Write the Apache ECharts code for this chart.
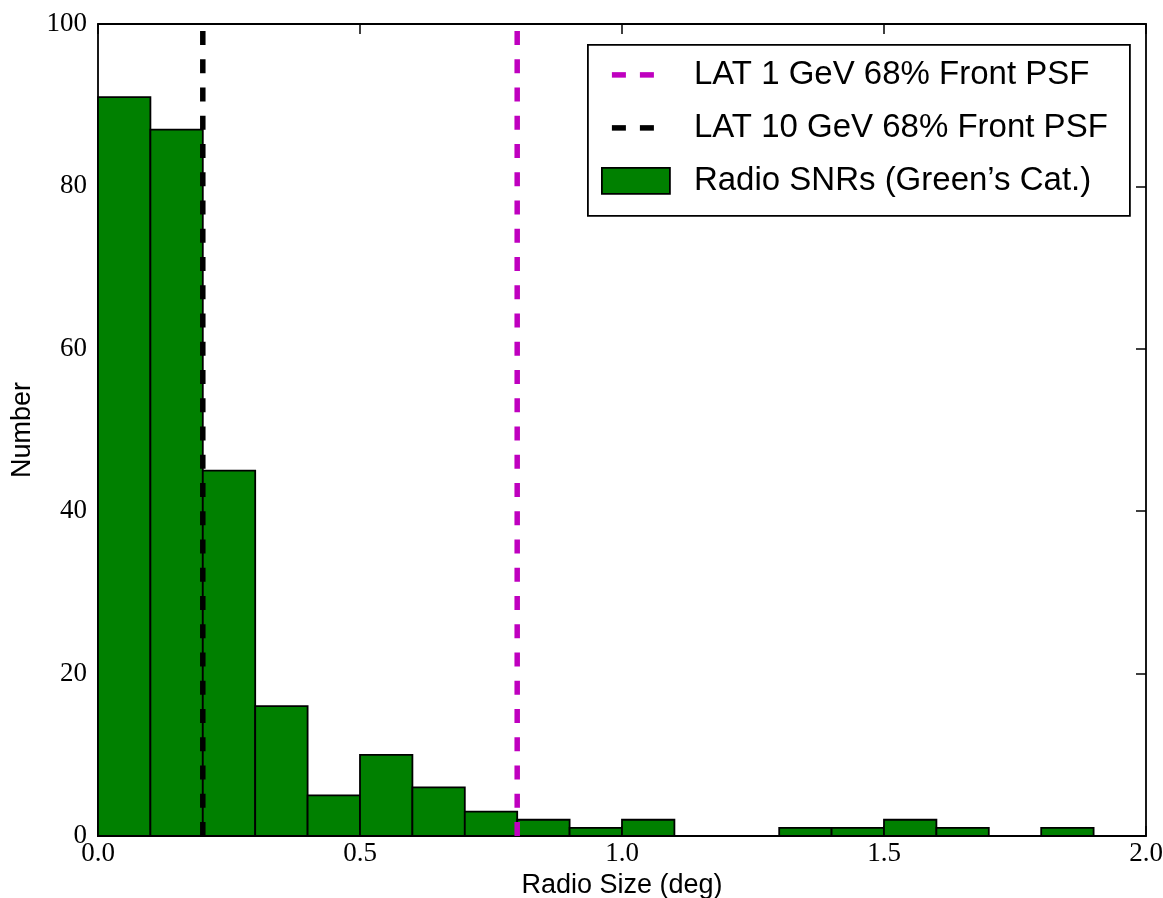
<!DOCTYPE html>
<html>
<head>
<meta charset="utf-8">
<title>Radio SNR sizes</title>
<script src="https://cdn.jsdelivr.net/npm/echarts@6/dist/echarts.min.js"></script>
<style>
  html, body { margin: 0; padding: 0; background: #ffffff; }
  #chart { width: 1163px; height: 898px; }
</style>
</head>
<body>
<div id="chart"></div>
<script>
// Histogram of radio sizes of SNRs in Green's catalogue (bin width 0.1 deg)
const binStarts = [0.0, 0.1, 0.2, 0.3, 0.4, 0.5, 0.6, 0.7, 0.8, 0.9,
                   1.0, 1.1, 1.2, 1.3, 1.4, 1.5, 1.6, 1.7, 1.8];
const binWidth = 0.1;
const counts = [91, 87, 45, 16, 5, 10, 6, 3, 2, 1,
                2, 0, 0, 1, 1, 2, 1, 0, 1];

// 68% containment radii of the LAT front PSF (deg)
const psf1GeV = 0.8;
const psf10GeV = 0.2;

// Axis ranges and tick steps
const xRange = [0, 2];
const xStep = 0.5;
const yRange = [0, 100];
const yStep = 20;

const labels = {
  psf1: 'LAT 1 GeV 68% Front PSF',
  psf10: 'LAT 10 GeV 68% Front PSF',
  snr: 'Radio SNRs (Green\u2019s Cat.)',
  x: 'Radio Size (deg)',
  y: 'Number'
};

const GREEN = '#008000';
const MAGENTA = '#bf00bf';
const BLACK = '#000000';
const SANS = '"Liberation Sans", Arial, sans-serif';
const SERIF = '"Liberation Serif", "Times New Roman", serif';
const DASH = [14, 14.25];

const histData = binStarts.map((s, i) => [s, s + binWidth, counts[i]]);

const chart = echarts.init(document.getElementById('chart'), null, { renderer: 'canvas' });

const tickStyle = { show: true, inside: true, length: 10, lineStyle: { color: BLACK, width: 1.5 } };
const frameLine = { show: true, onZero: false, lineStyle: { color: BLACK, width: 1.8 } };

const option = {
  animation: false,
  backgroundColor: '#ffffff',
  grid: {
    left: 98, top: 24, width: 1048, height: 812,
    containLabel: false, outerBoundsMode: 'none'
  },
  xAxis: [
    {
      type: 'value', position: 'bottom',
      min: xRange[0], max: xRange[1], interval: xStep,
      axisLine: frameLine, axisTick: tickStyle, splitLine: { show: false },
      axisLabel: {
        color: BLACK, fontFamily: SERIF, fontSize: 27, margin: 4,
        formatter: v => v.toFixed(1)
      },
      name: labels.x, nameLocation: 'middle', nameGap: 33,
      nameTextStyle: { color: BLACK, fontFamily: SANS, fontSize: 27 }
    },
    {
      type: 'value', position: 'top',
      min: xRange[0], max: xRange[1], interval: xStep,
      axisLine: frameLine, axisTick: tickStyle, splitLine: { show: false },
      axisLabel: { show: false }
    }
  ],
  yAxis: [
    {
      type: 'value', position: 'left',
      min: yRange[0], max: yRange[1], interval: yStep,
      axisLine: frameLine, axisTick: tickStyle, splitLine: { show: false },
      axisLabel: { color: BLACK, fontFamily: SERIF, fontSize: 27, margin: 11 },
      name: labels.y, nameLocation: 'middle', nameGap: 57, nameRotate: 90,
      nameTextStyle: { color: BLACK, fontFamily: SANS, fontSize: 27 }
    },
    {
      type: 'value', position: 'right',
      min: yRange[0], max: yRange[1], interval: yStep,
      axisLine: frameLine, axisTick: tickStyle, splitLine: { show: false },
      axisLabel: { show: false }
    }
  ],
  series: [
    {
      name: labels.snr,
      type: 'custom',
      xAxisIndex: 0, yAxisIndex: 0,
      data: histData,
      encode: { x: [0, 1], y: 2 },
      z: 2,
      renderItem: function (params, api) {
        const p0 = api.coord([api.value(0), api.value(2)]);
        const p1 = api.coord([api.value(1), 0]);
        return {
          type: 'rect',
          shape: { x: p0[0], y: p0[1], width: p1[0] - p0[0], height: p1[1] - p0[1] },
          style: { fill: GREEN, stroke: BLACK, lineWidth: 1.8 }
        };
      }
    },
    {
      name: labels.psf1,
      type: 'line',
      xAxisIndex: 0, yAxisIndex: 0,
      data: [[psf1GeV, yRange[0]], [psf1GeV, yRange[1]]],
      symbol: 'none', z: 5,
      lineStyle: { color: MAGENTA, width: 5.5, type: DASH, cap: 'butt' }
    },
    {
      name: labels.psf10,
      type: 'line',
      xAxisIndex: 0, yAxisIndex: 0,
      data: [[psf10GeV, yRange[0]], [psf10GeV, yRange[1]]],
      symbol: 'none', z: 5,
      lineStyle: { color: BLACK, width: 5.5, type: DASH, cap: 'butt' }
    }
  ],
  graphic: {
    elements: [
      {
        type: 'group', left: 587, top: 44, z: 100,
        children: [
          { type: 'rect', shape: { x: 0, y: 0, width: 542, height: 171 },
            style: { fill: '#ffffff', stroke: BLACK, lineWidth: 1.8 } },
          { type: 'line', shape: { x1: 24, y1: 30, x2: 66, y2: 30 },
            style: { stroke: MAGENTA, lineWidth: 5.5, lineDash: [14, 14] } },
          { type: 'text', x: 106, y: 30,
            style: { text: labels.psf1, fill: BLACK, font: '33px ' + SANS, verticalAlign: 'middle' } },
          { type: 'line', shape: { x1: 24, y1: 83, x2: 66, y2: 83 },
            style: { stroke: BLACK, lineWidth: 5.5, lineDash: [14, 14] } },
          { type: 'text', x: 106, y: 83,
            style: { text: labels.psf10, fill: BLACK, font: '33px ' + SANS, verticalAlign: 'middle' } },
          { type: 'rect', shape: { x: 14, y: 123, width: 68, height: 26 },
            style: { fill: GREEN, stroke: BLACK, lineWidth: 1.8 } },
          { type: 'text', x: 106, y: 136,
            style: { text: labels.snr, fill: BLACK, font: '33px ' + SANS, verticalAlign: 'middle' } }
        ]
      }
    ]
  }
};

chart.setOption(option);
</script>
</body>
</html>
